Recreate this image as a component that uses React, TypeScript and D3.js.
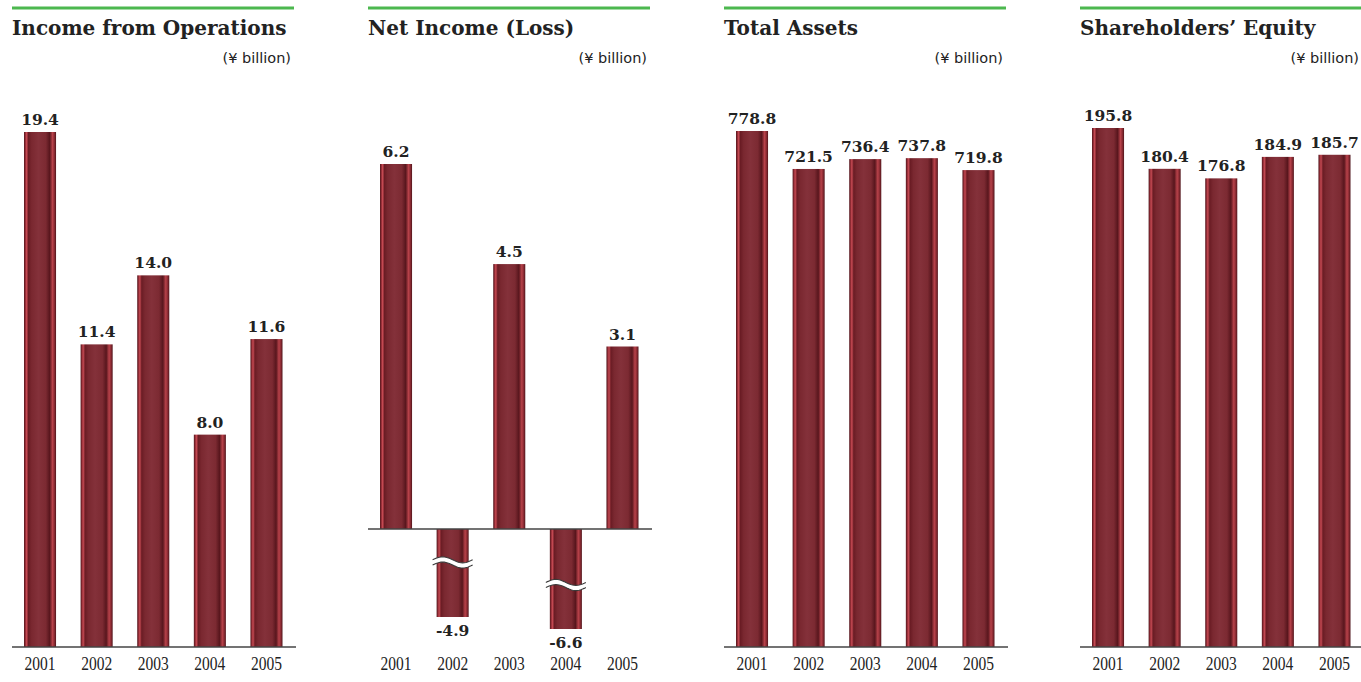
import React from "react";
import * as d3 from "d3";

const years = ["2001", "2002", "2003", "2004", "2005"];
const incomeFromOperations = [19.4, 11.4, 14.0, 8.0, 11.6];
const netIncome = [6.2, -4.9, 4.5, -6.6, 3.1];
const totalAssets = [778.8, 721.5, 736.4, 737.8, 719.8];
const shareholdersEquity = [195.8, 180.4, 176.8, 184.9, 185.7];
const titles = ["Income from Operations", "Net Income (Loss)", "Total Assets", "Shareholders\u2019 Equity"];
const unitLabel = "(\u00a5 billion)";

const W = 1361;
const H = 682;
const PANEL_X = [12, 368, 724, 1080];
const PANEL_W = 282.5;
const BASE_Y = 647;
const ZERO_Y_NET = 529;
const TOP_Y = [132, 164, 131, 128];
const BREAK_FRAC: Record<string, number> = { "2002": 0.38, "2004": 0.56 };

const fmt = d3.formatLocale({ decimal: ".", thousands: ",", grouping: [3], currency: ["", ""], minus: "-" }).format(".1f");

function wavePath(x0: number, x1: number, cy: number, amp: number, offset: number, reverse = false) {
  const n = 24;
  const pts: [number, number][] = [];
  for (let i = 0; i <= n; i++) {
    const t = i / n;
    pts.push([x0 + (x1 - x0) * t, cy + offset - amp * Math.sin(2 * Math.PI * t)]);
  }
  if (reverse) pts.reverse();
  return pts;
}

function BreakMark({ x, w, cy }: { x: number; w: number; cy: number }) {
  const x0 = x - 4;
  const x1 = x + w + 4;
  const top = wavePath(x0, x1, cy, 3, -2.6);
  const bot = wavePath(x0, x1, cy, 3, 2.6, true);
  const line = d3.line();
  const fill = "M" + top.map((p) => p.join(",")).join("L") + "L" + bot.map((p) => p.join(",")).join("L") + "Z";
  return (
    <g>
      <path d={fill} fill="#fff" />
      <path d={line(top) || ""} fill="none" stroke="#3a3a3a" strokeWidth={1.1} />
      <path d={line(bot) || ""} fill="none" stroke="#3a3a3a" strokeWidth={1.1} />
    </g>
  );
}

function Panel({ idx, values }: { idx: number; values: number[] }) {
  const x0 = PANEL_X[idx];
  const x = d3.scaleBand<string>().domain(years).range([x0, x0 + PANEL_W]).paddingInner(0.434).paddingOuter(0.212);
  const isNet = idx === 1;
  const zeroY = isNet ? ZERO_Y_NET : BASE_Y;
  const maxV = d3.max(values) as number;
  const y = d3.scaleLinear().domain([0, maxV]).range([zeroY, TOP_Y[idx]]);
  const yNeg = d3.scaleLinear().domain([0, -1]).range([zeroY + 53.4, zeroY + 53.4 + 7.06]);
  const bw = x.bandwidth();
  const lineEnd = idx === 3 ? W : x0 + 284;
  return (
    <g>
      <line x1={x0} x2={x0 + 282} y1={8} y2={8} stroke="#4cb84f" strokeWidth={3} />
      <text x={x0} y={35} fontFamily="DejaVu Serif" fontWeight="bold" fontSize={20} fill="#222">
        {titles[idx]}
      </text>
      <text x={x0 + 279} y={63} textAnchor="end" fontFamily="DejaVu Sans" fontSize={14.5} fill="#222">
        {unitLabel}
      </text>
      {values.map((v, i) => {
        const bx = x(years[i]) as number;
        const cx = bx + bw / 2;
        if (v >= 0) {
          const top = y(v);
          return (
            <g key={i}>
              <rect x={bx} y={top} width={bw} height={zeroY - top} fill="url(#barGrad)" />
              <text x={cx} y={top - 7} textAnchor="middle" fontFamily="DejaVu Serif" fontWeight="bold" fontSize={15.5} fill="#222">
                {fmt(v)}
              </text>
            </g>
          );
        }
        const bottom = yNeg(v);
        const frac = BREAK_FRAC[years[i]] ?? 0.5;
        return (
          <g key={i}>
            <rect x={bx} y={zeroY} width={bw} height={bottom - zeroY} fill="url(#barGrad)" />
            <BreakMark x={bx} w={bw} cy={zeroY + (bottom - zeroY) * frac} />
            <text x={cx} y={bottom + 19} textAnchor="middle" fontFamily="DejaVu Serif" fontWeight="bold" fontSize={15.5} fill="#222">
              {fmt(v)}
            </text>
          </g>
        );
      })}
      <line x1={x0} x2={lineEnd} y1={zeroY} y2={zeroY} stroke="#444" strokeWidth={1.3} />
      {years.map((yr) => (
        <text
          key={yr}
          x={(x(yr) as number) + bw / 2}
          y={670}
          textAnchor="middle"
          fontFamily="Liberation Serif"
          fontSize={18}
          fill="#222"
          textLength={31}
          lengthAdjust="spacingAndGlyphs"
        >
          {yr}
        </text>
      ))}
    </g>
  );
}

export default function App() {
  const series = [incomeFromOperations, netIncome, totalAssets, shareholdersEquity];
  return (
    <svg width={W} height={H} style={{ position: "absolute", left: 0, top: 0, background: "#fff" }}>
      <defs>
        <linearGradient id="barGrad" x1="0" x2="1" y1="0" y2="0">
          <stop offset="0%" stopColor="#4e141b" />
          <stop offset="4%" stopColor="#8e2a33" />
          <stop offset="8%" stopColor="#c64a53" />
          <stop offset="14%" stopColor="#6a1c24" />
          <stop offset="24%" stopColor="#7a2830" />
          <stop offset="45%" stopColor="#84313a" />
          <stop offset="68%" stopColor="#7c2a32" />
          <stop offset="80%" stopColor="#58161d" />
          <stop offset="89%" stopColor="#b8424a" />
          <stop offset="95%" stopColor="#8a2a32" />
          <stop offset="100%" stopColor="#4e141b" />
        </linearGradient>
      </defs>
      {series.map((vals, i) => (
        <Panel key={i} idx={i} values={vals} />
      ))}
    </svg>
  );
}
